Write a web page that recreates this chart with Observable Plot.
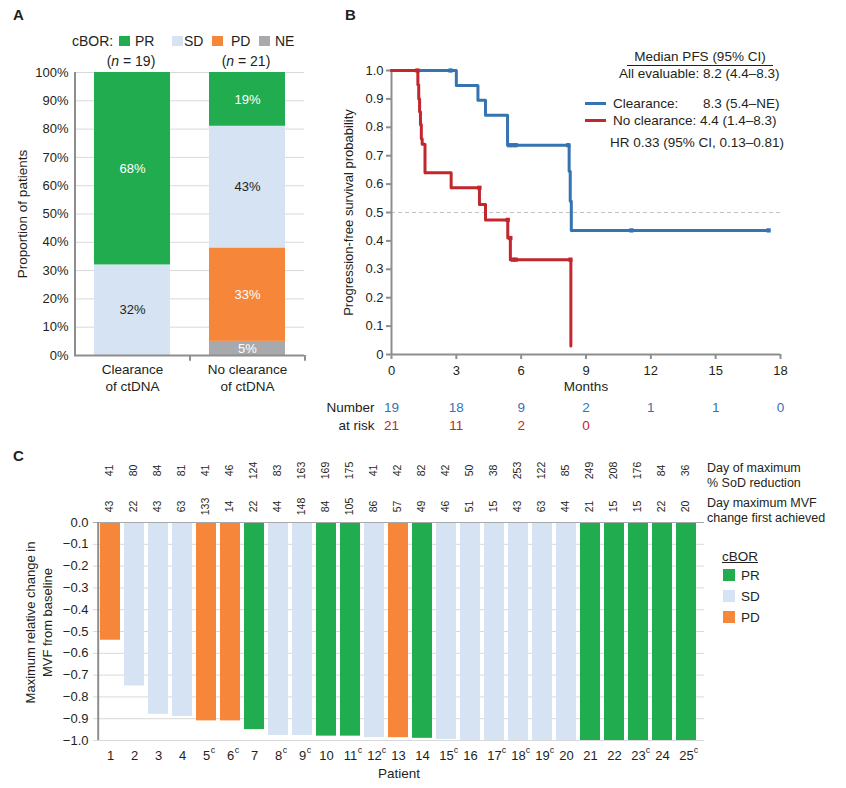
<!DOCTYPE html>
<html><head><meta charset="utf-8">
<script src="https://cdn.jsdelivr.net/npm/d3@7"></script>
<script src="https://cdn.jsdelivr.net/npm/@observablehq/plot@0.6"></script>
<style>
body{margin:0;background:#fff;}
#root{position:relative;width:846px;height:788px;font-family:"Liberation Sans",Arial,Helvetica,sans-serif;color:#231f20;overflow:hidden;background:#fff;}
.abs{position:absolute;white-space:nowrap;line-height:16px;font-size:13px;}
.sw{position:absolute;}
#root svg{position:absolute;}
</style></head><body><div id="root"></div>
<script>
// ---------- Data: panel A ----------
const groupsA = ["Clearance of ctDNA", "No clearance of ctDNA"];
const groupLabelsA = ["Clearance\nof ctDNA", "No clearance\nof ctDNA"];
const groupN = [19, 21];
const cborCats = ["PR", "SD", "PD", "NE"];
const cborColors = ["#21ad4f", "#d5e3f2", "#f5863a", "#a7a9ac"];
const stackOrder = ["NE", "PD", "SD", "PR"];           // bottom -> top
const clearancePct = [0, 0, 32, 68];
const noClearancePct = [5, 33, 43, 19];
const pctTicks = [0, 0.1, 0.2, 0.3, 0.4, 0.5, 0.6, 0.7, 0.8, 0.9, 1.0];

// ---------- Data: panel B ----------
const monthTicks = [0, 3, 6, 9, 12, 15, 18];
const probTicks = [0, 0.1, 0.2, 0.3, 0.4, 0.5, 0.6, 0.7, 0.8, 0.9, 1.0];
const clearTimes = [0, 3.0, 4.0, 4.35, 5.37, 8.22, 8.27, 8.32, 17.45];
const clearSurv  = [1.0, 0.947, 0.895, 0.842, 0.737, 0.645, 0.54, 0.437, 0.437];
const clearCensorT = [2.73, 5.45, 5.6, 5.75, 8.18, 11.1, 17.45];
const clearCensorS = [1.0, 0.737, 0.737, 0.737, 0.737, 0.437, 0.437];
const noclTimes = [0, 1.22, 1.26, 1.30, 1.34, 1.38, 1.42, 1.55, 2.76, 4.07, 4.35, 5.38, 5.5, 8.3];
const noclSurv  = [1.0, 0.95, 0.90, 0.855, 0.81, 0.76, 0.74, 0.64, 0.587, 0.528, 0.474, 0.41, 0.334, 0.03];
const noclCensorT = [1.2, 4.07, 5.38, 5.5, 5.62, 5.75, 8.28];
const noclCensorS = [1.0, 0.587, 0.474, 0.41, 0.334, 0.334, 0.334];
const riskClear = [19, 18, 9, 2, 1, 1, 0];
const riskNocl = [21, 11, 2, 0];

// ---------- Data: panel C ----------
const patients = ["1","2","3","4","5","6","7","8","9","10","11","12","13","14","15","16","17","18","19","20","21","22","23","24","25"];
const mvfChange = [-0.54,-0.75,-0.88,-0.89,-0.91,-0.91,-0.95,-0.977,-0.977,-0.98,-0.98,-0.987,-0.987,-0.99,-0.995,-1,-1,-1,-1,-1,-1,-1,-1,-1,-1];
const patientCbor = ["PD","SD","SD","SD","PD","PD","PR","SD","SD","PR","PR","SD","PD","PR","SD","SD","SD","SD","SD","SD","PR","PR","PR","PR","PR"];
const daySod = [41,80,84,81,41,46,124,83,163,169,175,41,42,82,42,50,38,253,122,85,249,208,176,84,36];
const dayMvf = [43,22,43,63,133,14,22,44,148,84,105,86,57,49,46,51,15,43,63,44,21,15,15,22,20];
const footnoteC = ["5","6","8","9","11","12","15","17","18","19","23","25"];
const mvfTicks = [0,-0.1,-0.2,-0.3,-0.4,-0.5,-0.6,-0.7,-0.8,-0.9,-1.0];
const cborCatsC = ["PR", "SD", "PD"];

// ---------- Style ----------
const FONT = '"Liberation Sans", Arial, Helvetica, sans-serif';
const INK = "#231f20", AX = "#8e8e8e", GRID = "#d9d9d9";
const BLUE = "#3673b1", RED = "#c1272d";
const colorOf = Object.fromEntries(cborCats.map((c, i) => [c, cborColors[i]]));
const root = document.getElementById("root");
const baseStyle = {fontFamily: FONT, fontSize: "13px", color: INK, background: "transparent", overflow: "visible"};

function place(svg, left, top) { svg.style.left = left + "px"; svg.style.top = top + "px"; root.appendChild(svg); }
function label(html, left, cy, extra = {}) {
  const d = document.createElement("div");
  d.className = "abs"; d.innerHTML = html;
  d.style.left = left + "px"; d.style.top = (cy - 8) + "px";
  Object.assign(d.style, extra);
  root.appendChild(d); return d;
}
function swatch(left, top, w, h, color) {
  const d = document.createElement("div");
  d.className = "sw";
  Object.assign(d.style, {left: left + "px", top: top + "px", width: w + "px", height: h + "px", background: color});
  root.appendChild(d);
}

// ---------- Panel A ----------
const rowsA = [], labelsA = [];
groupsA.forEach((g, gi) => {
  const vals = gi === 0 ? clearancePct : noClearancePct;
  let cum = 0;
  stackOrder.forEach((c, ci) => {
    const v = vals[ci];
    if (v > 0) {
      rowsA.push({group: g, cbor: c, pct: v / 100});
      labelsA.push({group: g, cbor: c, mid: (cum + v / 2) / 100, text: v + "%"});
    }
    cum += v;
  });
});
const plotA = Plot.plot({
  width: 320, height: 400, marginLeft: 74, marginRight: 16, marginTop: 72, marginBottom: 45,
  style: baseStyle,
  x: {domain: groupsA, paddingInner: 0.34, paddingOuter: 0.17, axis: null},
  y: {domain: [0, 1]},
  color: {domain: cborCats, range: cborColors},
  marks: [
    Plot.gridY(pctTicks, {stroke: GRID, strokeOpacity: 1}),
    Plot.barY(rowsA, {x: "group", y: "pct", fill: "cbor"}),
    Plot.text(labelsA.filter(d => d.cbor !== "SD"), {x: "group", y: "mid", text: "text", fill: "white", fontSize: 13}),
    Plot.text(labelsA.filter(d => d.cbor === "SD"), {x: "group", y: "mid", text: "text", fill: INK, fontSize: 13}),
    Plot.axisY(pctTicks, {tickSize: 0, tickPadding: 6, tickFormat: d3.format(".0%"), label: null, fill: INK}),
    Plot.ruleY([0], {stroke: AX, strokeWidth: 2}),
    Plot.ruleX([groupsA[0]], {x: d => d, y1: 0, y2: 1, dx: -57.5, stroke: AX, strokeWidth: 2}),
    Plot.ruleX(groupsA, {x: d => d, y1: 0, y2: -0.02, dx: 57.5, stroke: AX, strokeWidth: 2}),
    Plot.text(groupsA, {x: d => d, text: (d, i) => groupLabelsA[i], frameAnchor: "bottom", lineAnchor: "top", dy: 7, lineHeight: 1.23, fontSize: 13.5}),
    Plot.text(["Proportion of patients"], {text: d => d, frameAnchor: "left", textAnchor: "middle", lineAnchor: "middle", rotate: -90, dx: -52, fontSize: 13.5})
  ]
});
place(plotA, 0, 0);
label("A", 13, 15, {fontWeight: "bold", fontSize: "15px"});
label("cBOR:", 72, 41, {fontSize: "14px"});
[[119, 135], [172, 184], [212, 231], [259, 275]].forEach(([sx, tx], i) => {
  swatch(sx, 36, 11, 10, cborColors[i]);
  label(cborCats[i], tx, 41, {fontSize: "14px"});
});
groupN.forEach((n, i) => {
  label("(<i>n</i> = " + n + ")", [131, 246][i], 61, {transform: "translateX(-50%)", fontSize: "14px"});
});

// ---------- Panel B ----------
const clearRows = clearTimes.map((t, i) => ({t, s: clearSurv[i]}));
const noclRows = noclTimes.map((t, i) => ({t, s: noclSurv[i]}));
const clearCens = clearCensorT.map((t, i) => ({t, s: clearCensorS[i]}));
const noclCens = noclCensorT.map((t, i) => ({t, s: noclCensorS[i]}));
const riskRowsC = riskClear.map((n, i) => ({t: monthTicks[i], n}));
const riskRowsN = riskNocl.map((n, i) => ({t: monthTicks[i], n}));
const plotB = Plot.plot({
  width: 516, height: 440, marginLeft: 61, marginRight: 66, marginTop: 70, marginBottom: 86,
  style: baseStyle,
  x: {domain: [0, 18]},
  y: {domain: [0, 1]},
  marks: [
    Plot.ruleY([0.5], {stroke: "#c4c4c4", strokeDasharray: "4,3"}),
    Plot.axisX(monthTicks, {tickSize: 5, tickPadding: 6, stroke: AX, strokeWidth: 2, label: null, fill: INK}),
    Plot.axisY(probTicks, {tickSize: 5, tickPadding: 3, stroke: AX, strokeWidth: 2, tickFormat: d => d === 0 ? "0" : d.toFixed(1), label: null, fill: INK}),
    Plot.ruleX([0], {stroke: AX, strokeWidth: 2}),
    Plot.ruleY([0], {stroke: AX, strokeWidth: 2}),
    Plot.line(clearRows, {x: "t", y: "s", curve: "step-after", stroke: BLUE, strokeWidth: 3}),
    Plot.dot(clearCens, {x: "t", y: "s", symbol: "square", r: 2.4, fill: BLUE}),
    Plot.line(noclRows, {x: "t", y: "s", curve: "step-after", stroke: RED, strokeWidth: 3}),
    Plot.dot(noclCens, {x: "t", y: "s", symbol: "square", r: 2.4, fill: RED}),
    Plot.text(["Months"], {text: d => d, frameAnchor: "bottom", lineAnchor: "middle", dy: 32, fontSize: 13.5}),
    Plot.text(riskRowsC, {x: "t", text: "n", frameAnchor: "bottom", lineAnchor: "middle", dy: 53, fill: BLUE, fontSize: 13.5}),
    Plot.text(riskRowsN, {x: "t", text: "n", frameAnchor: "bottom", lineAnchor: "middle", dy: 71, fill: RED, fontSize: 13.5}),
    Plot.text([{t: 0, s: "Number"}], {x: "t", text: "s", frameAnchor: "bottom", lineAnchor: "middle", dy: 53, dx: -17, textAnchor: "end", fontSize: 13.5}),
    Plot.text([{t: 0, s: "at risk"}], {x: "t", text: "s", frameAnchor: "bottom", lineAnchor: "middle", dy: 71, dx: -17, textAnchor: "end", fontSize: 13.5}),
    Plot.text(["Progression-free survival probability"], {text: d => d, frameAnchor: "left", textAnchor: "middle", lineAnchor: "middle", rotate: -90, dx: -43, fontSize: 13})
  ]
});
place(plotB, 330, 0);
label("B", 345, 15, {fontWeight: "bold", fontSize: "15px"});
label("Median PFS (95% CI)", 627, 57, {width: "146px", textAlign: "center", borderBottom: "1px solid " + INK, lineHeight: "16px", height: "16px", fontSize: "13.5px"});
label("All evaluable: 8.2 (4.4–8.3)", 619, 74, {fontSize: "13.5px"});
swatch(585, 102, 21, 3, BLUE);
swatch(585, 119, 21, 3, RED);
label("Clearance:", 613, 104, {fontSize: "13.5px"});
label("8.3 (5.4–NE)", 703, 104, {fontSize: "13.5px"});
label("No clearance: 4.4 (1.4–8.3)", 613, 121, {fontSize: "13.5px"});
label("HR 0.33 (95% CI, 0.13–0.81)", 610, 143, {fontSize: "13.5px"});

// ---------- Panel C ----------
const rowsC = patients.map((p, i) => ({patient: p, mvf: mvfChange[i], cbor: patientCbor[i], sod: daySod[i], first: dayMvf[i]}));
const plotC = Plot.plot({
  width: 846, height: 348, marginLeft: 93, marginRight: 142, marginTop: 82, marginBottom: 48,
  style: baseStyle,
  x: {domain: patients, paddingInner: 0.15, paddingOuter: 0.08},
  y: {domain: [-1, 0]},
  color: {domain: cborCats, range: cborColors},
  marks: [
    Plot.gridY(mvfTicks.filter(d => d !== 0), {stroke: GRID, strokeOpacity: 1}),
    Plot.barY(rowsC, {x: "patient", y1: 0, y2: "mvf", fill: "cbor"}),
    Plot.ruleY([0], {stroke: "#a8a8a8", strokeWidth: 1.2}),
    Plot.ruleX([patients[0]], {x: d => d, y1: -1, y2: 0, dx: -12.3, stroke: AX, strokeWidth: 2}),
    Plot.axisY(mvfTicks, {tickSize: 0, tickPadding: 5, tickFormat: d3.format(".1f"), label: null, fill: INK}),
    Plot.axisX(patients, {tickSize: 0, tickPadding: 10, label: null, fill: INK, fontSize: 13}),
    Plot.text(footnoteC.filter(d => d.length === 1), {x: d => d, text: () => "c", frameAnchor: "bottom", lineAnchor: "middle", dx: 6.5, dy: 10, fontSize: 9}),
    Plot.text(footnoteC.filter(d => d.length === 2), {x: d => d, text: () => "c", frameAnchor: "bottom", lineAnchor: "middle", dx: 9.5, dy: 10, fontSize: 9}),
    Plot.text(rowsC, {x: "patient", text: "sod", frameAnchor: "top", lineAnchor: "middle", textAnchor: "middle", rotate: -90, dy: -52, dx: -1, fontSize: 10.5}),
    Plot.text(rowsC, {x: "patient", text: "first", frameAnchor: "top", lineAnchor: "middle", textAnchor: "middle", rotate: -90, dy: -16, dx: -1, fontSize: 10.5}),
    Plot.text(["Patient"], {text: d => d, frameAnchor: "bottom", lineAnchor: "middle", dy: 33, fontSize: 13.5}),
    Plot.text(["Maximum relative change in\nMVF from baseline"], {text: d => d, frameAnchor: "left", textAnchor: "middle", lineAnchor: "middle", rotate: -90, dx: -55, dy: -9, lineHeight: 1.3, fontSize: 13})
  ]
});
place(plotC, 0, 440);
label("C", 13, 456, {fontWeight: "bold", fontSize: "15px"});
label("Day of maximum", 707, 468, {fontSize: "12.5px"});
label("% SoD reduction", 707, 483, {fontSize: "12.5px"});
label("Day maximum MVF", 707, 503, {fontSize: "12.5px"});
label("change first achieved", 707, 518, {fontSize: "12.5px"});
label("cBOR", 722, 557, {fontSize: "13.5px", textDecoration: "underline"});
cborCatsC.forEach((c, i) => {
  swatch(723, 569 + i * 21, 12, 12, colorOf[c]);
  label(c, 741, 576 + i * 21, {fontSize: "13.5px"});
});
</script></body></html>
